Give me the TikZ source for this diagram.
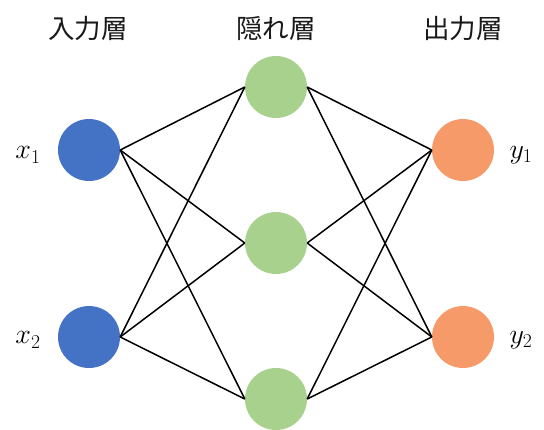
\RequirePackage{fix-cm}
\documentclass[tikz,border=0pt]{standalone}
\usepackage{fontspec}
\newfontfamily\cjk{Noto Sans CJK JP}
\definecolor{inblue}{HTML}{4472C4}
\definecolor{hidgreen}{HTML}{A9D18E}
\definecolor{outorange}{HTML}{F79A6A}
\begin{document}
\begin{tikzpicture}[x=1pt,y=-1pt,
  neuron/.style={circle,inner sep=0pt,minimum size=62pt},
  innode/.style={neuron,fill=inblue},
  hidnode/.style={neuron,fill=hidgreen},
  outnode/.style={neuron,fill=outorange},
  conn/.style={draw=black,line width=1.5pt},
  title/.style={font=\cjk\fontsize{26.5}{30}\selectfont,text=black!90},
  lbl/.style={font=\fontsize{28}{32}\selectfont}]
\useasboundingbox (0,0) rectangle (544,429);
\node[title] (t1) at (88,29) {入力層};
\node[title] (t2) at (276,29) {隠れ層};
\node[title] (t3) at (463,29) {出力層};
\node[innode] (i1) at (89,150) {};
\node[innode] (i2) at (89,337) {};
\node[hidnode] (h1) at (276,87) {};
\node[hidnode] (h2) at (276,243) {};
\node[hidnode] (h3) at (276,399) {};
\node[outnode] (o1) at (463,150) {};
\node[outnode] (o2) at (463,337) {};
\foreach \i in {1,2}{\foreach \h in {1,2,3}{
  \draw[conn] (i\i.east) -- (h\h.west);
  \draw[conn] (h\h.east) -- (o\i.west);}}
\node[lbl] (lx1) at (28,155) {$x_1$};
\node[lbl] (lx2) at (28,340) {$x_2$};
\node[lbl] (ly1) at (521,155) {$y_1$};
\node[lbl] (ly2) at (521,340) {$y_2$};
\end{tikzpicture}
\end{document}
